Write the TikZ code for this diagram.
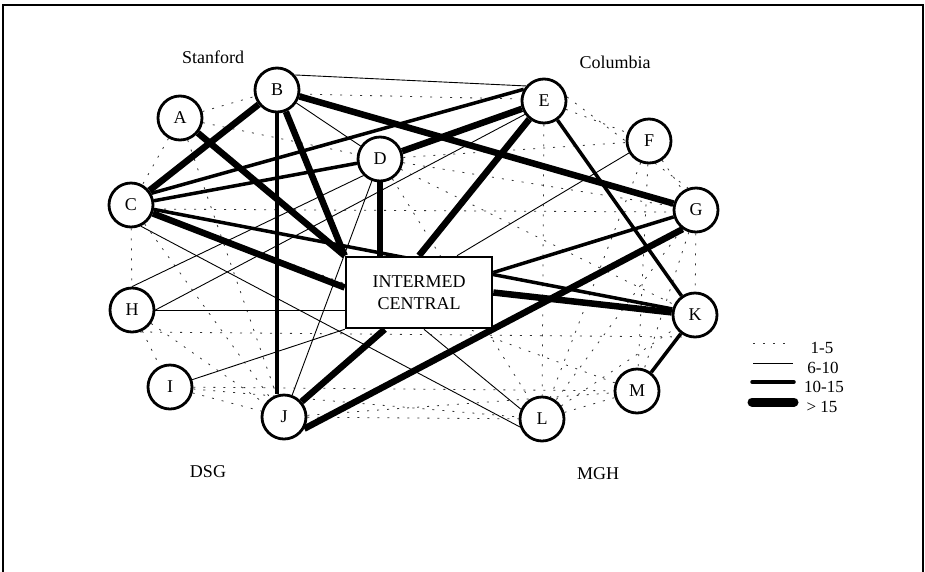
\documentclass[tikz,border=0pt]{standalone}
\usepackage{fontspec}
\setmainfont{Liberation Serif}
\usetikzlibrary{calc}
\pgfdeclarelayer{bg}
\pgfsetlayers{bg,main}
\begin{document}
\begin{tikzpicture}[x=1pt,y=-1pt,
  nd/.style={circle,draw,line width=2.8pt,fill=white,minimum size=44pt,inner sep=0pt,font=\fontsize{18}{20}\selectfont},
  boxnode/.style={draw,line width=2.6pt,fill=white,minimum width=146pt,minimum height=71pt,inner sep=0pt,align=center,font=\fontsize{18}{22}\selectfont},
  lab/.style={font=\fontsize{18}{20}\selectfont,inner sep=0pt},
  leg/.style={font=\fontsize{17}{19}\selectfont,inner sep=0pt},
  wdot/.style={line width=0.8pt,black!80,dash pattern=on 2pt off 8pt},
  wthin/.style={line width=0.9pt},
  wmed/.style={line width=3.5pt},
  wthick/.style={line width=6.5pt}]
\useasboundingbox (0,0) rectangle (925,571);
\draw[line width=1.5pt] (3,575) -- (3,5) -- (923,5) -- (923,575);

% nodes
\node[nd] (A) at (180,118) {A};
\node[nd] (B) at (277,90) {B};
\node[nd] (C) at (131,205) {C};
\node[nd] (D) at (380,159) {D};
\node[nd] (E) at (544,101) {E};
\node[nd] (F) at (649,141) {F};
\node[nd] (G) at (696,210) {G};
\node[nd] (H) at (132,310) {H};
\node[nd] (I) at (170,387) {I};
\node[nd] (J) at (284,417) {J};
\node[nd] (K) at (695,315) {K};
\node[nd] (L) at (542,419) {L};
\node[nd] (M) at (637,391) {M};
\node[boxnode] (box) at (419,292.5) {INTERMED\\CENTRAL};

\node[lab] (stanford) at (213,57) {Stanford};
\node[lab] (columbia) at (615,62) {Columbia};
\node[lab] (dsg) at (208,472) {DSG};
\node[lab] (mgh) at (598,474) {MGH};

\begin{pgfonlayer}{bg}
% dotted 1-5
\draw[wdot] (A) -- (B);
\draw[wdot] (A) -- (C);
\draw[wdot] (A) -- (D);
\draw[wdot] (B.-10) -- (E.175);
\draw[wdot] (C) -- (H);
\draw[wdot] (H) -- (I);
\draw[wdot] (I) -- (J);
\draw[wdot] (J) -- (L);
\draw[wdot] (L) -- (M);
\draw[wdot] (E) -- (F);
\draw[wdot] (F) -- (G);
\draw[wdot] (E.10) -- (G.110);
\draw[wdot] (G) -- (K);
\draw[wdot] (E) -- (L);
\draw[wdot] (C.-10) -- (G.185);
\draw[wdot] (H.-70) -- (K.-110);
\draw[wdot] (I) -- (M);
\draw[wdot] (J) -- (M);
\draw[wdot] (L) -- (K);
\draw[wdot] (D) -- (F);
\draw[wdot] (D) -- (G);
\draw[wdot] (C) -- (M);
\draw[wdot] (H) -- (J);
\draw[wdot] (D) -- (K);
\draw[wdot] (F) -- (M);
\draw[wdot] (G) -- (L);
\draw[wdot] (G) -- (M);
\draw[wdot] (I) -- (L);
\draw[wdot] (F) -- (L);
\draw[wdot] (D) -- (L);
\draw[wdot] (C) -- (J);
\draw[wdot] (A) -- (J);
% thin 6-10
\draw[wthin] (B.40) -- (E.140);
\draw[wthin] (B) -- (D);
\draw[wthin] (C.-65) -- (L.200);
\draw[wthin] ($(box.south)+(5,0)$) -- (L.155);
\draw[wthin] (H.north) -- (D.225);
\draw[wthin] (H.east) -- (E.215);
\draw[wthin] (H) -- (H -| box.west);
\draw[wthin] (I) -- (box.south west);
\draw[wthin] (J) -- (D);
\draw[wthin] (F) -- ($(box.north)+(38,0)$);
% medium 10-15
\draw[wmed] (B.south) -- (B.south |- J.north);
\draw[wmed] (C.30) -- (E.150);
\draw[wmed] (C) -- (D);
\draw[wmed] (C) -- (K.165);
\draw[wmed] (G) -- ($(box.east)+(0,-20)$);
\draw[wmed] (E) -- (K);
\draw[wmed] (K) -- (M);
% thick >15
\draw[wthick] (A) -- (box.north west);
\draw[wthick] (B) -- (box.north west);
\draw[wthick] (B) -- (C);
\draw[wthick] (B) -- (G);
\draw[wthick] (D) -- (E);
\draw[wthick] (D) -- (D |- box.north);
\draw[wthick] (E) -- (box.north);
\draw[wthick] (C) -- ($(box.west)+(0,-5)$);
\draw[wthick] (box.east) -- (K);
\draw[wthick] (G.235) -- (J.-30);
\draw[wthick] ($(box.south west)+(40,0)$) -- (J);
\end{pgfonlayer}

% legend
\coordinate (la1) at (753,343); \coordinate (la2) at (785,343);
\coordinate (lb1) at (753,363); \coordinate (lb2) at (793,363);
\coordinate (lc1) at (752,382); \coordinate (lc2) at (794,382);
\coordinate (ld1) at (752,402); \coordinate (ld2) at (794,402);
\draw[wdot] (la1) -- (la2);
\draw[wthin] (lb1) -- (lb2);
\draw[wmed,line cap=round] (lc1) -- (lc2);
\draw[line width=9pt,line cap=round] (ld1) -- (ld2);
\node[leg] (t1) at (822,348) {1-5};
\node[leg] (t2) at (823,368) {6-10};
\node[leg] (t3) at (824,387) {10-15};
\node[leg] (t4) at (822,407) {> 15};
\end{tikzpicture}
\end{document}
